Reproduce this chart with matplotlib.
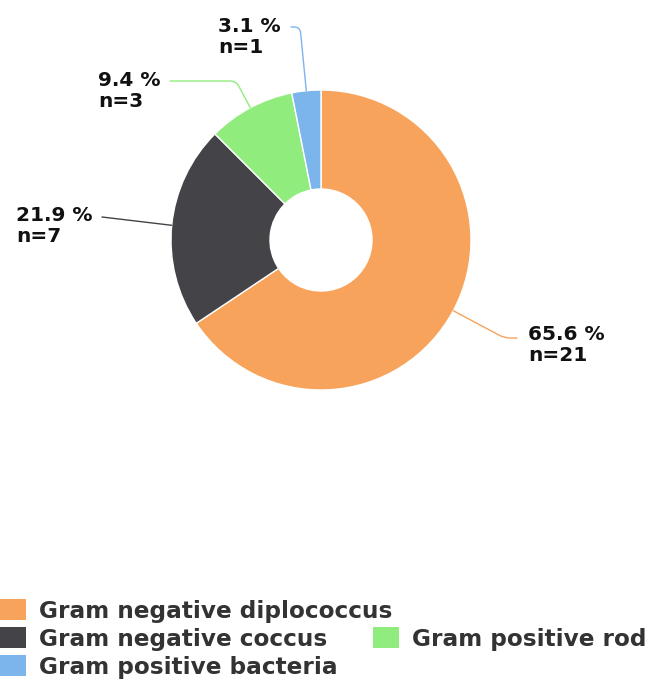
import numpy as np
import matplotlib.pyplot as plt
from matplotlib.patches import Patch

categories = ["Gram negative diplococcus", "Gram negative coccus",
              "Gram positive rod", "Gram positive bacteria"]
counts = [21, 7, 3, 1]
colors = ["#f7a35c", "#434348", "#90ed7d", "#7cb5ec"]

W, H = 651, 686
fig = plt.figure(figsize=(W / 100, H / 100), dpi=100)

# pie centre and radius in pixels
cx, cy, r = 321, 240, 150
ax = fig.add_axes([(cx - r) / W, (H - cy - r) / H, 2 * r / W, 2 * r / H])
wedges, _ = ax.pie(counts, colors=colors, startangle=90, counterclock=False,
                   radius=1, wedgeprops=dict(width=0.66, edgecolor="white", linewidth=1))
ax.set_xlim(-1, 1)
ax.set_ylim(-1, 1)
ax.axis("off")


def px(x, y):
    return (x - cx) / r, (cy - y) / r


# text left x, text block centre y, connector end x, connector end y (pixels)
label_layout = [(528, 345, 517, 338), (16, 226, 102, 217),
                (98, 91, 170, 81), (218, 37, 291, 27)]

total = sum(counts)
for w, n, c, (tx, ty, ex, ey) in zip(wedges, counts, colors, label_layout):
    mid = (w.theta1 + w.theta2) / 2
    x0, y0 = np.cos(np.radians(mid)), np.sin(np.radians(mid))
    if abs(np.sin(np.radians(mid))) < 0.2:
        cs = "arc3,rad=0"
    else:
        cs = "angle,angleA=0,angleB={:.1f},rad=6".format(mid)
    ax.annotate("", xy=(x0, y0), xytext=px(ex, ey),
                arrowprops=dict(arrowstyle="-", color=c, lw=1,
                                shrinkA=0, shrinkB=0, connectionstyle=cs))
    ax.text(*px(tx, ty), "{:.1f} %\nn={}".format(100 * n / total, n),
            ha="left", va="center", fontsize=14.5, fontweight="bold",
            color="#111111", linespacing=1.1)

handles = [Patch(facecolor=c, edgecolor="none") for c in colors]
leg_kw = dict(frameon=False, prop={"weight": "bold", "size": 16.7},
              handlelength=1.12, handleheight=1.04, handletextpad=0.56,
              labelspacing=0.19, borderpad=0, borderaxespad=0,
              labelcolor="#333333", loc="upper left")
fig.legend([handles[0], handles[1], handles[3]],
           [categories[0], categories[1], categories[3]],
           bbox_to_anchor=(0, (H - 599) / H), **leg_kw)
fig.legend([handles[2]], [categories[2]],
           bbox_to_anchor=(373 / W, (H - 627) / H), **leg_kw)

fig.savefig("out.png", dpi=100)
